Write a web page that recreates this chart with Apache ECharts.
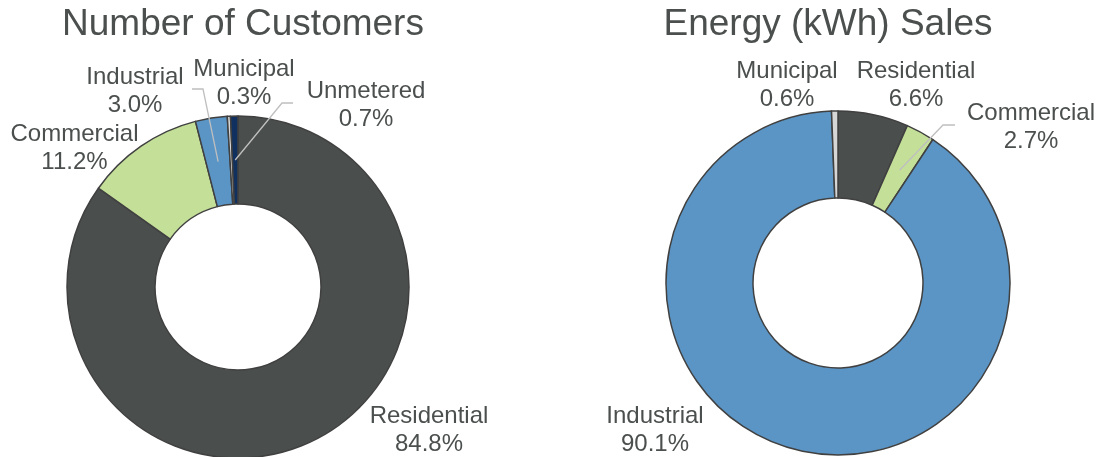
<!DOCTYPE html>
<html><head><meta charset="utf-8">
<script src="https://cdn.jsdelivr.net/npm/echarts@6/dist/echarts.min.js"></script>
<style>html,body{margin:0;padding:0;background:#fff}#c{width:1099px;height:457px}</style>
</head><body><div id="c"></div>
<script>
var customerCategories = ['Residential', 'Commercial', 'Industrial', 'Municipal', 'Unmetered'];
var customerShares = [84.8, 11.2, 3.0, 0.3, 0.7];
var energyCategories = ['Residential', 'Commercial', 'Industrial', 'Municipal'];
var energyShares = [6.6, 2.7, 90.1, 0.6];
var chartTitles = ['Number of Customers', 'Energy (kWh) Sales'];

var FONT = "'Liberation Sans', Arial, Helvetica, sans-serif";
var TEXT = '#4B4F4E';
var colors = {Residential: '#4A4E4D', Commercial: '#C4DF98', Industrial: '#5A95C6', Municipal: '#D6D6D6', Unmetered: '#10305F'};
var cats = [customerCategories, energyCategories];
var vals = [customerShares, energyShares];
var labelPos = [
  {Residential: [429, 430], Commercial: [74.5, 148], Industrial: [135, 91], Municipal: [244, 83], Unmetered: [366, 105]},
  {Residential: [916, 85], Commercial: [1031, 127], Industrial: [655, 430], Municipal: [787, 85]}
];
var leaders = [
  {Industrial: [[57, -2], [68, -2]], Unmetered: [[-73, -2], [-84, -2]]},
  {Commercial: [[-76, -2], [-88, -2]]}
];
var centers = [[238, 287], [838, 283]];
var radii = [[83, 171], [85, 172]];

var chart = echarts.init(document.getElementById('c'), null, {renderer: 'canvas'});

function anchor(si, di) {
  try {
    var l = chart.getModel().getSeriesByIndex(si).getData().getItemLayout(di);
    var m = (l.startAngle + l.endAngle) / 2, r = (l.r0 + l.r) / 2;
    return [l.cx + r * Math.cos(m), l.cy + r * Math.sin(m)];
  } catch (e) {
    var v = vals[si], tot = 0, before = 0;
    for (var i = 0; i < v.length; i++) { tot += v[i]; if (i < di) before += v[i]; }
    var ang = -Math.PI / 2 + 2 * Math.PI * (before + v[di] / 2) / tot;
    var rr = (radii[si][0] + radii[si][1]) / 2;
    return [centers[si][0] + rr * Math.cos(ang), centers[si][1] + rr * Math.sin(ang)];
  }
}

function makeLayout(si) {
  return function (p) {
    var name = cats[si][p.dataIndex];
    var pos = labelPos[si][name];
    var out = {x: pos[0], y: pos[1], align: 'center', verticalAlign: 'middle'};
    var ld = leaders[si][name];
    if (ld) {
      out.labelLinePoints = [anchor(si, p.dataIndex),
        [pos[0] + ld[1][0], pos[1] + ld[1][1]],
        [pos[0] + ld[0][0], pos[1] + ld[0][1]]];
    }
    return out;
  };
}

// base ring (sectors only)
function makeRing(si) {
  return {
    type: 'pie',
    center: centers[si],
    radius: radii[si],
    startAngle: 90,
    clockwise: true,
    silent: true,
    animation: false,
    z: 2,
    itemStyle: {borderColor: '#404040', borderWidth: 1.5},
    label: {show: false},
    labelLine: {show: false},
    data: cats[si].map(function (n, i) {
      return {name: n, value: vals[si][i], itemStyle: {color: colors[n]}};
    })
  };
}

// overlay (labels + leader lines drawn above the ring)
function makeLabels(si) {
  return {
    type: 'pie',
    center: centers[si],
    radius: radii[si],
    startAngle: 90,
    clockwise: true,
    avoidLabelOverlap: false,
    silent: true,
    animation: false,
    z: 5,
    itemStyle: {color: 'rgba(0,0,0,0)', borderWidth: 0},
    label: {
      show: true, position: 'outside',
      formatter: function (p) { return p.name + '\n' + p.value.toFixed(1) + '%'; },
      fontSize: 24, lineHeight: 28, color: TEXT, fontFamily: FONT, align: 'center'
    },
    labelLine: {show: true, length: 10, length2: 10, lineStyle: {color: '#BFBFBF', width: 1.3}},
    labelLayout: makeLayout(si),
    data: cats[si].map(function (n, i) {
      return {name: n, value: vals[si][i], labelLine: {show: !!leaders[si][n]}};
    })
  };
}

chart.setOption({
  backgroundColor: '#ffffff',
  animation: false,
  title: [
    {text: chartTitles[0], left: 243, top: 6, textAlign: 'center', padding: 0,
     textStyle: {fontSize: 37, fontWeight: 'normal', color: TEXT, fontFamily: FONT}},
    {text: chartTitles[1], left: 828, top: 6, textAlign: 'center', padding: 0,
     textStyle: {fontSize: 37, fontWeight: 'normal', color: TEXT, fontFamily: FONT}}
  ],
  series: [makeRing(0), makeRing(1), makeLabels(0), makeLabels(1)]
});
</script>
</body></html>
